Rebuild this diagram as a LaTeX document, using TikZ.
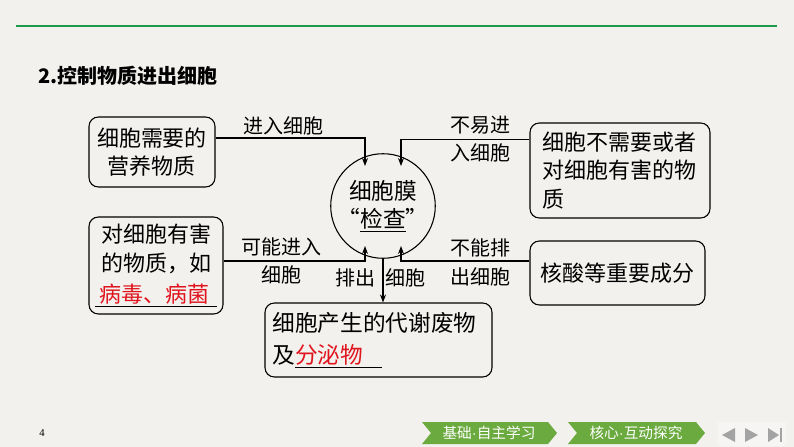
\documentclass[tikz,border=0pt]{standalone}
\usepackage{fontspec}
\setmainfont{Noto Sans CJK SC}
\newfontfamily\serifnum{Liberation Serif}
\newfontfamily\sanspoint{Liberation Sans}
\usetikzlibrary{arrows.meta}
\definecolor{fond}{HTML}{F3F1ED}
\definecolor{vertligne}{HTML}{1E9A4A}
\definecolor{vertbouton}{HTML}{6AAA3E}
\definecolor{grisnav}{HTML}{A3A3A3}
\definecolor{rougerep}{HTML}{E0141E}

\tikzset{
  boite/.style = {draw=black, rounded corners=7pt, line width=0.8pt, inner sep=0pt,
    font=\fontsize{16.5}{21.5}\selectfont},% cadre d'une idee
  etiq/.style = {inner sep=0pt, align=center, font=\fontsize{15}{21.5}\selectfont},% texte sur les fleches
  fleche/.style = {line width=0.8pt, -{Stealth[length=6pt,width=4.5pt]}},% connecteur
  bouton/.style = {fill=vertbouton, draw=none},% onglet du bas
  nav/.style = {fill=grisnav, draw=none}% icones de navigation
}

\begin{document}
\begin{tikzpicture}[x=0.75pt, y=-0.75pt]
  \fill[fond] (0,0) rectangle (794,447);
  \useasboundingbox (0,0) rectangle (794,447);
  \draw[vertligne, line width=1.6pt] (16,26) -- (777,26);
  \node[anchor=west, inner sep=0pt, font=\fontsize{15}{18}\bfseries\selectfont] (titre) at (38,76) {2.控制物质进出细胞};

  % la membrane
  \node[circle, draw=black, line width=0.8pt, minimum size=88*0.75pt, inner sep=0pt,
        align=center, font=\fontsize{17}{21.5}\selectfont] (memb) at (383,206)
        {细胞膜\\“\underline{检查}”};
  \coordinate (hautG) at (365,166);
  \coordinate (hautD) at (401,166);
  \coordinate (basG) at (365,246);
  \coordinate (basD) at (401,246);

  % les cadres
  \node[boite, minimum width=126*0.75pt, minimum height=70*0.75pt, align=center] (besoin) at (152,152)
        {细胞需要的\\营养物质};
  \node[boite, minimum width=134*0.75pt, minimum height=97*0.75pt, align=center] (nocif) at (156,265.5)
        {对细胞有害\\的物质，如\\[2pt]\underline{\hspace{3pt}\textcolor{rougerep}{病毒、病菌}\hspace{6pt}}};
  \node[boite, minimum width=180*0.75pt, minimum height=95*0.75pt, text width=156*0.75pt, align=left] (inutile) at (620,170.5)
        {细胞不需要或者\\对细胞有害的物\\质};
  \node[boite, minimum width=175*0.75pt, minimum height=64*0.75pt, align=center] (acide) at (617.5,273)
        {核酸等重要成分};
  \node[boite, minimum width=227*0.75pt, minimum height=74*0.75pt, text width=212*0.75pt, align=left,
        font=\fontsize{17}{24}\selectfont] (dechet) at (378.5,340)
        {细胞产生的代谢废物\\及\underline{\textcolor{rougerep}{分泌物}\hspace{14pt}}};

  % les connecteurs
  \draw[fleche] ([yshift=10.5pt]besoin.east) -| (hautG);
  \draw[fleche] ([yshift=23.6pt]inutile.west) -| (hautD);
  \draw[fleche] ([yshift=3.4pt]nocif.east) -| (basG);
  \draw[fleche] ([yshift=9pt]acide.west) -| (basD);
  \draw[fleche] (memb.south) -- (memb.south |- dechet.north);

  % les textes des connecteurs
  \node[etiq] (lbesoin) at (283,126) {进入细胞};
  \node[etiq] (linutile) at (480,139) {不易进\\入细胞};
  \node[etiq] (lnocif) at (281,261) {可能进入\\细胞};
  \node[etiq] (lacide) at (480,262.5) {不能排\\出细胞};
  \node[etiq] (lsortie) at (355,278) {排出};
  \node[etiq] (lsortie2) at (405,278) {细胞};

  % bas de page
  \node[inner sep=0pt, font=\serifnum\fontsize{8}{9}\selectfont] (page) at (42,433) {4};
  \fill[bouton] (422,422) -- (548,422) -- (557,433) -- (548,444) -- (422,444) -- (431,433) -- cycle;
  \fill[bouton] (568,422) -- (696,422) -- (705,433) -- (696,444) -- (568,444) -- (577,433) -- cycle;
  \node[text=white, inner sep=0pt, font=\fontsize{11}{12}\selectfont] (onglet1) at (489,433) {基础{\sanspoint·}自主学习};
  \node[text=white, inner sep=0pt, font=\fontsize{11}{12}\selectfont] (onglet2) at (636,433) {核心{\sanspoint·}互动探究};
  \fill[white, opacity=0.35] (718,422) rectangle (786,446);
  \fill[nav] (722,435) -- (735,428) -- (735,442) -- cycle;
  \fill[nav] (745,428) -- (758,435) -- (745,442) -- cycle;
  \fill[nav] (768,428) -- (779,435) -- (768,442) -- cycle;
  \fill[nav] (779.5,428) rectangle (782,442);
\end{tikzpicture}
\end{document}
